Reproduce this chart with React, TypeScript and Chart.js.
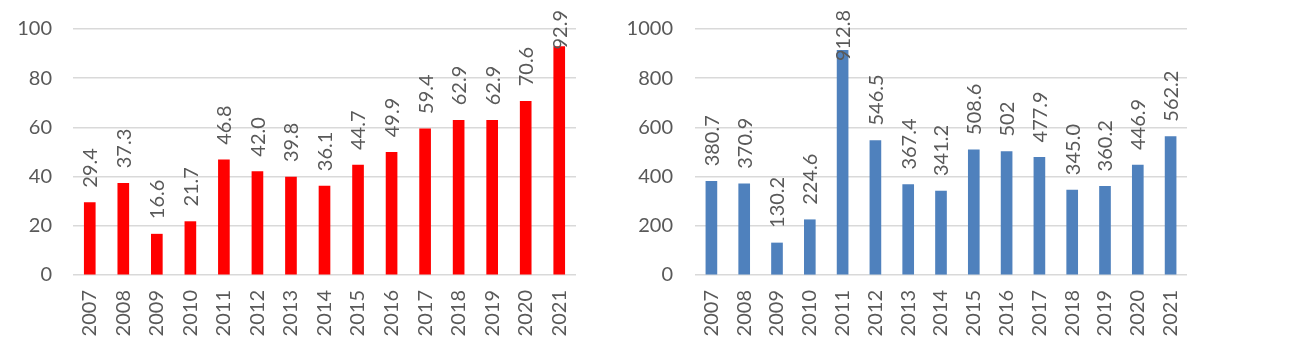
import React, { useEffect, useRef } from "react";
import { Chart, registerables } from "chart.js";

Chart.register(...registerables);

const years = ["2007", "2008", "2009", "2010", "2011", "2012", "2013", "2014", "2015", "2016", "2017", "2018", "2019", "2020", "2021"];

const leftValues = [29.4, 37.3, 16.6, 21.7, 46.8, 42.0, 39.8, 36.1, 44.7, 49.9, 59.4, 62.9, 62.9, 70.6, 92.9];
const leftLabels = ["29.4", "37.3", "16.6", "21.7", "46.8", "42.0", "39.8", "36.1", "44.7", "49.9", "59.4", "62.9", "62.9", "70.6", "92.9"];
const leftMax = 100;
const leftStep = 20;

const rightValues = [380.7, 370.9, 130.2, 224.6, 912.8, 546.5, 367.4, 341.2, 508.6, 502, 477.9, 345.0, 360.2, 446.9, 562.2];
const rightLabels = ["380.7", "370.9", "130.2", "224.6", "912.8", "546.5", "367.4", "341.2", "508.6", "502", "477.9", "345.0", "360.2", "446.9", "562.2"];
const rightMax = 1000;
const rightStep = 200;

const FONT = "Lato, 'Open Sans', 'DejaVu Sans', sans-serif";
const TEXT_COLOR = "#595959";
const GRID_COLOR = "#d9d9d9";

type PanelProps = {
  values: number[];
  labels: string[];
  color: string;
  max: number;
  step: number;
  left: number;
  width: number;
  axisWidth: number;
  tickPad: number;
  padRight: number;
};

const rotatedLabels = {
  id: "rotatedLabels",
  afterDatasetsDraw(chart: any) {
    const texts: string[] = chart.options.plugins.rotatedLabels.texts;
    const meta = chart.getDatasetMeta(0);
    const ctx = chart.ctx;
    ctx.save();
    ctx.font = `20px ${FONT}`;
    ctx.fillStyle = TEXT_COLOR;
    ctx.textAlign = "left";
    ctx.textBaseline = "middle";
    meta.data.forEach((bar: any, i: number) => {
      const t = texts[i];
      const w = ctx.measureText(t).width;
      let bottom = bar.y - 15;
      if (bottom - w < 10) bottom = 10 + w;
      ctx.save();
      ctx.translate(bar.x + 1, bottom);
      ctx.rotate(-Math.PI / 2);
      ctx.fillText(t, 0, 0);
      ctx.restore();
    });
    ctx.restore();
  },
};

function Panel(p: PanelProps) {
  const ref = useRef<HTMLCanvasElement>(null);
  useEffect(() => {
    if (!ref.current) return;
    const chart = new Chart(ref.current, {
      type: "bar",
      data: {
        labels: years,
        datasets: [
          {
            data: p.values,
            backgroundColor: p.color,
            borderWidth: 0,
            barThickness: 11,
          },
        ],
      },
      options: {
        animation: false,
        responsive: false,
        maintainAspectRatio: false,
        layout: { padding: { top: 29, right: p.padRight, left: 0, bottom: 0 } },
        plugins: {
          legend: { display: false },
          tooltip: { enabled: false },
          rotatedLabels: { texts: p.labels },
        } as any,
        scales: {
          x: {
            grid: { display: false, drawTicks: false },
            border: { display: false },
            ticks: {
              minRotation: 90,
              maxRotation: 90,
              padding: 15,
              color: TEXT_COLOR,
              font: { family: FONT, size: 20 },
            },
            afterFit: (s: any) => {
              s.height = 82;
            },
          },
          y: {
            min: 0,
            max: p.max,
            grid: {
              color: GRID_COLOR,
              lineWidth: 1.5,
              drawTicks: true,
              tickLength: p.tickPad,
              tickColor: "rgba(0,0,0,0)",
            },
            border: { display: false },
            ticks: {
              stepSize: p.step,
              padding: 0,
              color: TEXT_COLOR,
              font: { family: FONT, size: 20 },
              callback: (v: any) => String(v),
            },
            afterFit: (s: any) => {
              s.width = p.axisWidth;
            },
          },
        },
      },
      plugins: [rotatedLabels],
    });
    return () => chart.destroy();
  }, []);
  return (
    <canvas
      ref={ref}
      width={p.width}
      height={357}
      style={{ position: "absolute", left: p.left, top: 0, width: p.width, height: 357 }}
    />
  );
}

export default function App() {
  return (
    <div style={{ position: "fixed", left: 0, top: 0, width: 1300, height: 357, background: "#ffffff", overflow: "hidden" }}>
      <Panel values={leftValues} labels={leftLabels} color="#ff0000" max={leftMax} step={leftStep} left={0} width={600} axisWidth={73} tickPad={21} padRight={24} />
      <Panel values={rightValues} labels={rightLabels} color="#4f81bd" max={rightMax} step={rightStep} left={600} width={700} axisWidth={95} tickPad={22} padRight={113} />
    </div>
  );
}
